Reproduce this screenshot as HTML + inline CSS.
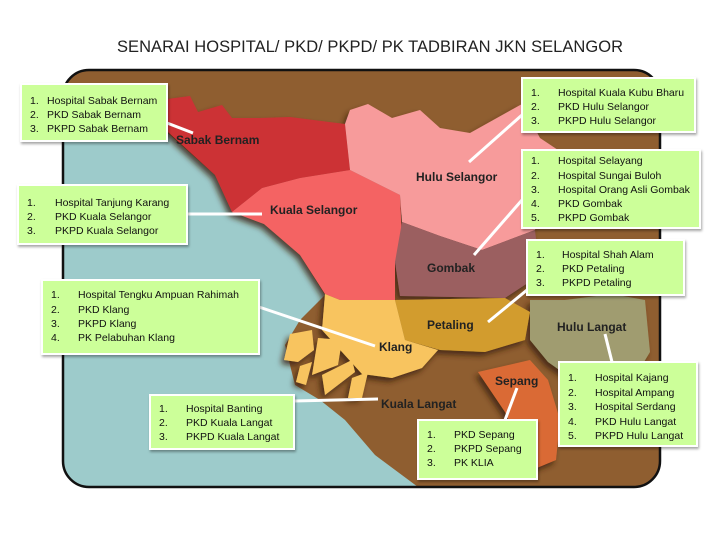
<!DOCTYPE html>
<html><head><meta charset="utf-8"><style>
body{margin:0;background:#fff;width:720px;height:540px;overflow:hidden}
svg{display:block}
.t{font-family:"Liberation Sans",sans-serif;font-size:10.5px;fill:#111}
.l{font-family:"Liberation Sans",sans-serif;font-size:12px;font-weight:bold;fill:#222}
.b{fill:#ccff99;stroke:#fff;stroke-width:2;filter:url(#sh)}
.c{stroke:#fff;stroke-width:3;fill:none}
</style></head><body>
<svg width="720" height="540" viewBox="0 0 720 540">
<defs>
<filter id="sh" x="-10%" y="-10%" width="130%" height="130%"><feDropShadow dx="1" dy="2" stdDeviation="1.2" flood-color="#000" flood-opacity="0.35"/></filter>
<filter id="rs" x="-10%" y="-10%" width="130%" height="130%"><feDropShadow dx="-3" dy="4" stdDeviation="3" flood-color="#3a2008" flood-opacity="0.8"/></filter>
<clipPath id="fr"><rect x="63" y="70" width="597" height="417" rx="26"/></clipPath>
</defs>
<text x="370" y="52" text-anchor="middle" font-family="Liberation Sans,sans-serif" font-size="16.5" fill="#222" textLength="506">SENARAI HOSPITAL/ PKD/ PKPD/ PK TADBIRAN  JKN SELANGOR</text>
<g clip-path="url(#fr)">
<rect x="63" y="70" width="597" height="417" fill="#8f5e30"/>
<path d="M63,110 L140,112 L170,135 L215,175 L262,222 L300,255 L325,295 L300,320 L285,345 L295,385 L320,400 L345,420 L375,455 L418,487 L63,487 Z" fill="#9dcbcb"/>
<g filter="url(#rs)">
<path d="M160,100 L190,96 L198,112 L222,105 L232,118 L260,118 L290,117 L345,124 L350,170 L300,178 L262,188 L232,212 L215,175 L168,132 Z" fill="#cc3035"/>
<path d="M232,212 L262,188 L300,178 L350,170 L400,195 L402,245 L395,262 L395,300 L340,300 L325,294 L300,255 L264,224 Z" fill="#f46363"/>
<path d="M350,170 L345,124 L350,110 L368,104 L392,118 L420,110 L440,128 L470,133 L522,104 L540,138 L558,150 L545,182 L535,230 L482,250 L440,236 L402,222 L400,195 Z" fill="#f79b9b"/>
<path d="M402,222 L440,236 L482,250 L535,230 L540,275 L505,298 L400,296 L395,262 Z" fill="#9b5e60"/>
<path d="M395,300 L505,298 L530,312 L525,340 L485,352 L440,350 L405,340 Z" fill="#d29c2f"/>
<path d="M325,294 L340,300 L395,300 L405,340 L438,350 L422,368 L392,378 L362,374 L342,352 L322,330 Z" fill="#f8c45e"/>
<path d="M290,334 L312,330 L314,350 L298,362 L284,360 Z" fill="#f8c45e"/>
<path d="M318,338 L342,340 L338,365 L312,375 Z" fill="#f8c45e"/>
<path d="M300,366 L312,362 L306,385 L296,382 Z" fill="#f8c45e"/>
<path d="M322,375 L352,360 L355,372 L325,395 Z" fill="#f8c45e"/>
<path d="M352,378 L368,372 L362,398 L348,398 Z" fill="#f8c45e"/>
<path d="M530,300 L565,300 L612,294 L645,300 L650,352 L632,382 L582,386 L548,362 L530,340 Z" fill="#a09c70"/>
<path d="M478,372 L530,360 L548,380 L560,420 L556,460 L532,470 L505,412 Z" fill="#da6b34"/>
</g>
</g>
<rect x="63" y="70" width="597" height="417" rx="26" fill="none" stroke="#111" stroke-width="2.5"/>
<g class="l">
<text x="176" y="144">Sabak Bernam</text>
<text x="416" y="181">Hulu Selangor</text>
<text x="270" y="214">Kuala Selangor</text>
<text x="427" y="272">Gombak</text>
<text x="427" y="329">Petaling</text>
<text x="379" y="351">Klang</text>
<text x="557" y="331">Hulu Langat</text>
<text x="495" y="385">Sepang</text>
<text x="381" y="408">Kuala Langat</text>
</g>
<g class="c">
<line x1="167" y1="123" x2="193" y2="133"/>
<line x1="522" y1="115" x2="469" y2="162"/>
<line x1="522" y1="200" x2="474" y2="255"/>
<line x1="187" y1="214" x2="262" y2="214"/>
<line x1="527" y1="290" x2="488" y2="322"/>
<line x1="259" y1="307" x2="375" y2="346"/>
<line x1="605" y1="334" x2="612" y2="362"/>
<line x1="294" y1="401" x2="378" y2="399"/>
<line x1="517" y1="388" x2="505" y2="420"/>
</g>
<rect class="b" x="21" y="84" width="146" height="57"/>
<rect class="b" x="522" y="78" width="173" height="54"/>
<rect class="b" x="522" y="150" width="178" height="78"/>
<rect class="b" x="18" y="185" width="169" height="59"/>
<rect class="b" x="527" y="240" width="157" height="55"/>
<rect class="b" x="42" y="280" width="217" height="74"/>
<rect class="b" x="559" y="362" width="138" height="84"/>
<rect class="b" x="150" y="395" width="144" height="54"/>
<rect class="b" x="418" y="420" width="119" height="59"/>
<g class="t">
<text x="30" y="104">1.</text><text x="47" y="104">Hospital Sabak Bernam</text>
<text x="30" y="118">2.</text><text x="47" y="118">PKD Sabak Bernam</text>
<text x="30" y="132">3.</text><text x="47" y="132">PKPD Sabak Bernam</text>

<text x="531" y="96">1.</text><text x="558" y="96">Hospital Kuala Kubu Bharu</text>
<text x="531" y="110">2.</text><text x="558" y="110">PKD Hulu Selangor</text>
<text x="531" y="124">3.</text><text x="558" y="124">PKPD Hulu Selangor</text>

<text x="531" y="164">1.</text><text x="558" y="164">Hospital Selayang</text>
<text x="531" y="179">2.</text><text x="558" y="179">Hospital Sungai Buloh</text>
<text x="531" y="193">3.</text><text x="558" y="193">Hospital Orang Asli Gombak</text>
<text x="531" y="207">4.</text><text x="558" y="207">PKD Gombak</text>
<text x="531" y="221">5.</text><text x="558" y="221">PKPD Gombak</text>

<text x="27" y="206">1.</text><text x="55" y="206">Hospital Tanjung Karang</text>
<text x="27" y="220">2.</text><text x="55" y="220">PKD Kuala Selangor</text>
<text x="27" y="234">3.</text><text x="55" y="234">PKPD Kuala Selangor</text>

<text x="536" y="258">1.</text><text x="562" y="258">Hospital Shah Alam</text>
<text x="536" y="272">2.</text><text x="562" y="272">PKD Petaling</text>
<text x="536" y="286">3.</text><text x="562" y="286">PKPD Petaling</text>

<text x="51" y="298">1.</text><text x="78" y="298">Hospital Tengku Ampuan Rahimah</text>
<text x="51" y="313">2.</text><text x="78" y="313">PKD Klang</text>
<text x="51" y="327">3.</text><text x="78" y="327">PKPD Klang</text>
<text x="51" y="341">4.</text><text x="78" y="341">PK Pelabuhan Klang</text>

<text x="568" y="381">1.</text><text x="595" y="381">Hospital Kajang</text>
<text x="568" y="396">2.</text><text x="595" y="396">Hospital Ampang</text>
<text x="568" y="410">3.</text><text x="595" y="410">Hospital Serdang</text>
<text x="568" y="425">4.</text><text x="595" y="425">PKD Hulu Langat</text>
<text x="568" y="439">5.</text><text x="595" y="439">PKPD Hulu Langat</text>

<text x="159" y="412">1.</text><text x="186" y="412">Hospital Banting</text>
<text x="159" y="426">2.</text><text x="186" y="426">PKD Kuala Langat</text>
<text x="159" y="440">3.</text><text x="186" y="440">PKPD Kuala Langat</text>

<text x="427" y="438">1.</text><text x="454" y="438">PKD Sepang</text>
<text x="427" y="452">2.</text><text x="454" y="452">PKPD Sepang</text>
<text x="427" y="466">3.</text><text x="454" y="466">PK KLIA</text>
</g>
</svg>
</body></html>
